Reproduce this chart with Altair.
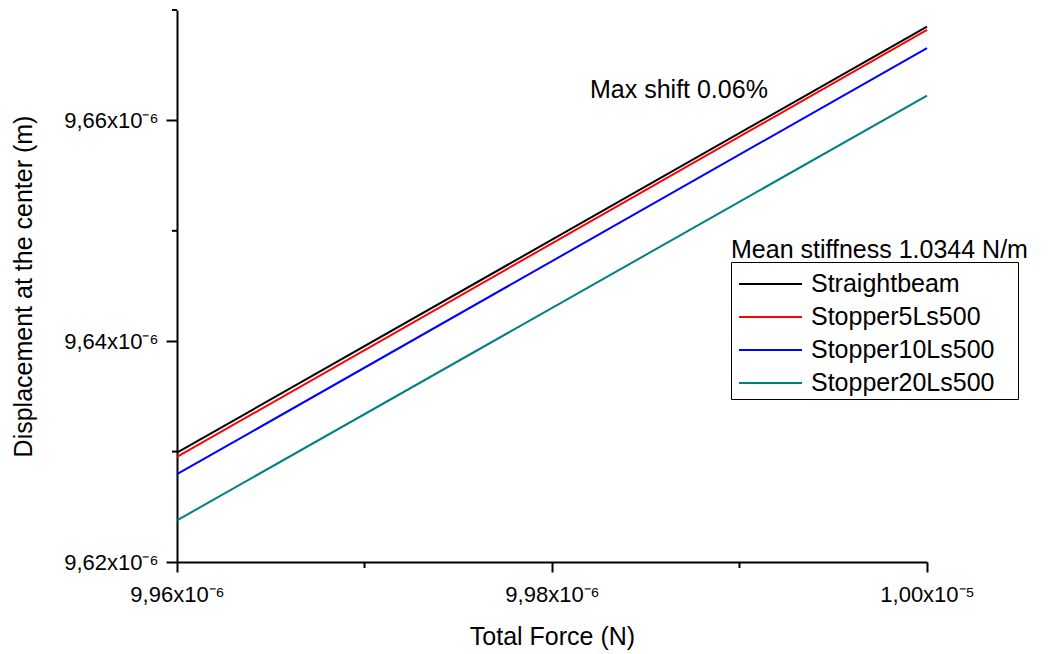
import altair as alt
import pandas as pd

# ---- data ----
series = ["Straightbeam", "Stopper5Ls500", "Stopper10Ls500", "Stopper20Ls500"]
colors = ["#000000", "#ff0000", "#0000ff", "#008080"]
force = [9.96e-6, 1.00e-5]
disp_straight = [9.62990e-6, 9.66850e-6]
disp_s5 = [9.62952e-6, 9.66820e-6]
disp_s10 = [9.62795e-6, 9.66655e-6]
disp_s20 = [9.62377e-6, 9.66225e-6]

x_major = [9.96e-6, 9.98e-6, 1.00e-5]
x_minor = [9.97e-6, 9.99e-6]
y_major = [9.62e-6, 9.64e-6, 9.66e-6]
y_minor = [9.63e-6, 9.65e-6, 9.67e-6]

x_title = "Total Force (N)"
y_title = "Displacement at the center (m)"
note_text = ["Max shift 0.06%"]
legend_title_text = ["Mean stiffness 1.0344 N/m"]

FONT = "Liberation Sans"
W, H = 750, 552

rows = []
for name, vals in zip(series, [disp_straight, disp_s5, disp_s10, disp_s20]):
    for f, d in zip(force, vals):
        rows.append({"force": f, "disp": d, "series": name})
df = pd.DataFrame(rows)

xscale = alt.Scale(domain=[9.96e-6, 1.00e-5], nice=False, zero=False)
yscale = alt.Scale(domain=[9.62e-6, 9.67e-6], nice=False, zero=False)
cscale = alt.Scale(domain=series, range=colors)

lab = ("datum.value >= 9.999e-6 ? replace(format(datum.value*1e5, '.2f'), '.', ',') + 'x10⁻⁵' "
       ": replace(format(datum.value*1e6, '.2f'), '.', ',') + 'x10⁻⁶'")

lines = alt.Chart(df).mark_line(strokeWidth=2).encode(
    x=alt.X("force:Q", scale=xscale, title=x_title,
            axis=alt.Axis(values=x_major, labelExpr=lab, grid=False, tickSize=10,
                          tickWidth=2, tickColor="black", domainColor="black", domainWidth=2,
                          labelFontSize=22, labelColor="black", labelPadding=12,
                          labelFont=FONT, titleFont=FONT, titleFontSize=25,
                          titleFontWeight="normal", titleColor="black",
                          titleY=82, titleBaseline="alphabetic", labelFlush=False)),
    y=alt.Y("disp:Q", scale=yscale, title=y_title,
            axis=alt.Axis(values=y_major, labelExpr=lab, grid=False, tickSize=11,
                          tickWidth=2, tickColor="black", domainColor="black", domainWidth=2,
                          labelFontSize=22, labelColor="black", labelPadding=8,
                          labelFont=FONT, titleFont=FONT, titleFontSize=25,
                          titleFontWeight="normal", titleColor="black",
                          titleX=-146, titleBaseline="alphabetic", labelFlush=False)),
    color=alt.Color("series:N", scale=cscale, legend=None),
    order=alt.Order("force:Q"),
)

ym = pd.DataFrame({"disp": y_minor})
minor_y = alt.Chart(ym).mark_rule(color="black", strokeWidth=2).encode(
    y=alt.Y("disp:Q", scale=yscale, axis=None), x=alt.value(-5), x2=alt.value(0))

xm = pd.DataFrame({"force": x_minor})
minor_x = alt.Chart(xm).mark_rule(color="black", strokeWidth=2).encode(
    x=alt.X("force:Q", scale=xscale), y=alt.value(H), y2=alt.value(H + 6))

note = alt.Chart(pd.DataFrame({"t": note_text})).mark_text(
    align="left", baseline="alphabetic", fontSize=25, font=FONT, color="black").encode(
    text="t:N", x=alt.value(413), y=alt.value(88))

# ---- legend (box, title, line samples, labels) ----
ltitle = alt.Chart(pd.DataFrame({"t": legend_title_text})).mark_text(
    align="left", baseline="alphabetic", fontSize=25, font=FONT, color="black").encode(
    text="t:N", x=alt.value(554), y=alt.value(248))

lbox = alt.Chart(pd.DataFrame({"t": legend_title_text})).mark_rect(
    fill="white", stroke="black", strokeWidth=1).encode(
    x=alt.value(554.5), x2=alt.value(841.5), y=alt.value(252.5), y2=alt.value(389.5))

legend_df = pd.DataFrame({"series": series})
rowscale = alt.Scale(type="point", domain=series, range=[274, 373], padding=0)
leg_lines = alt.Chart(legend_df).mark_rule(strokeWidth=2).encode(
    y=alt.Y("series:N", scale=rowscale, axis=None, sort=series),
    x=alt.value(562), x2=alt.value(625),
    color=alt.Color("series:N", scale=cscale, legend=None),
)
leg_text = alt.Chart(legend_df).mark_text(
    align="left", baseline="middle", fontSize=25, font=FONT, color="black").encode(
    y=alt.Y("series:N", scale=rowscale, axis=None, sort=series),
    x=alt.value(634), text="series:N")

chart = alt.layer(lines, minor_y, minor_x, note, ltitle, lbox, leg_lines, leg_text).resolve_scale(
    y="independent"
).properties(
    width=W, height=H,
    autosize=alt.AutoSizeParams(type="none"),
    padding={"left": 169, "top": 2, "right": 128, "bottom": 92},
).configure(font=FONT).configure_view(stroke=None)

chart.save("out.html", embed_options={"renderer": "svg", "actions": False})
